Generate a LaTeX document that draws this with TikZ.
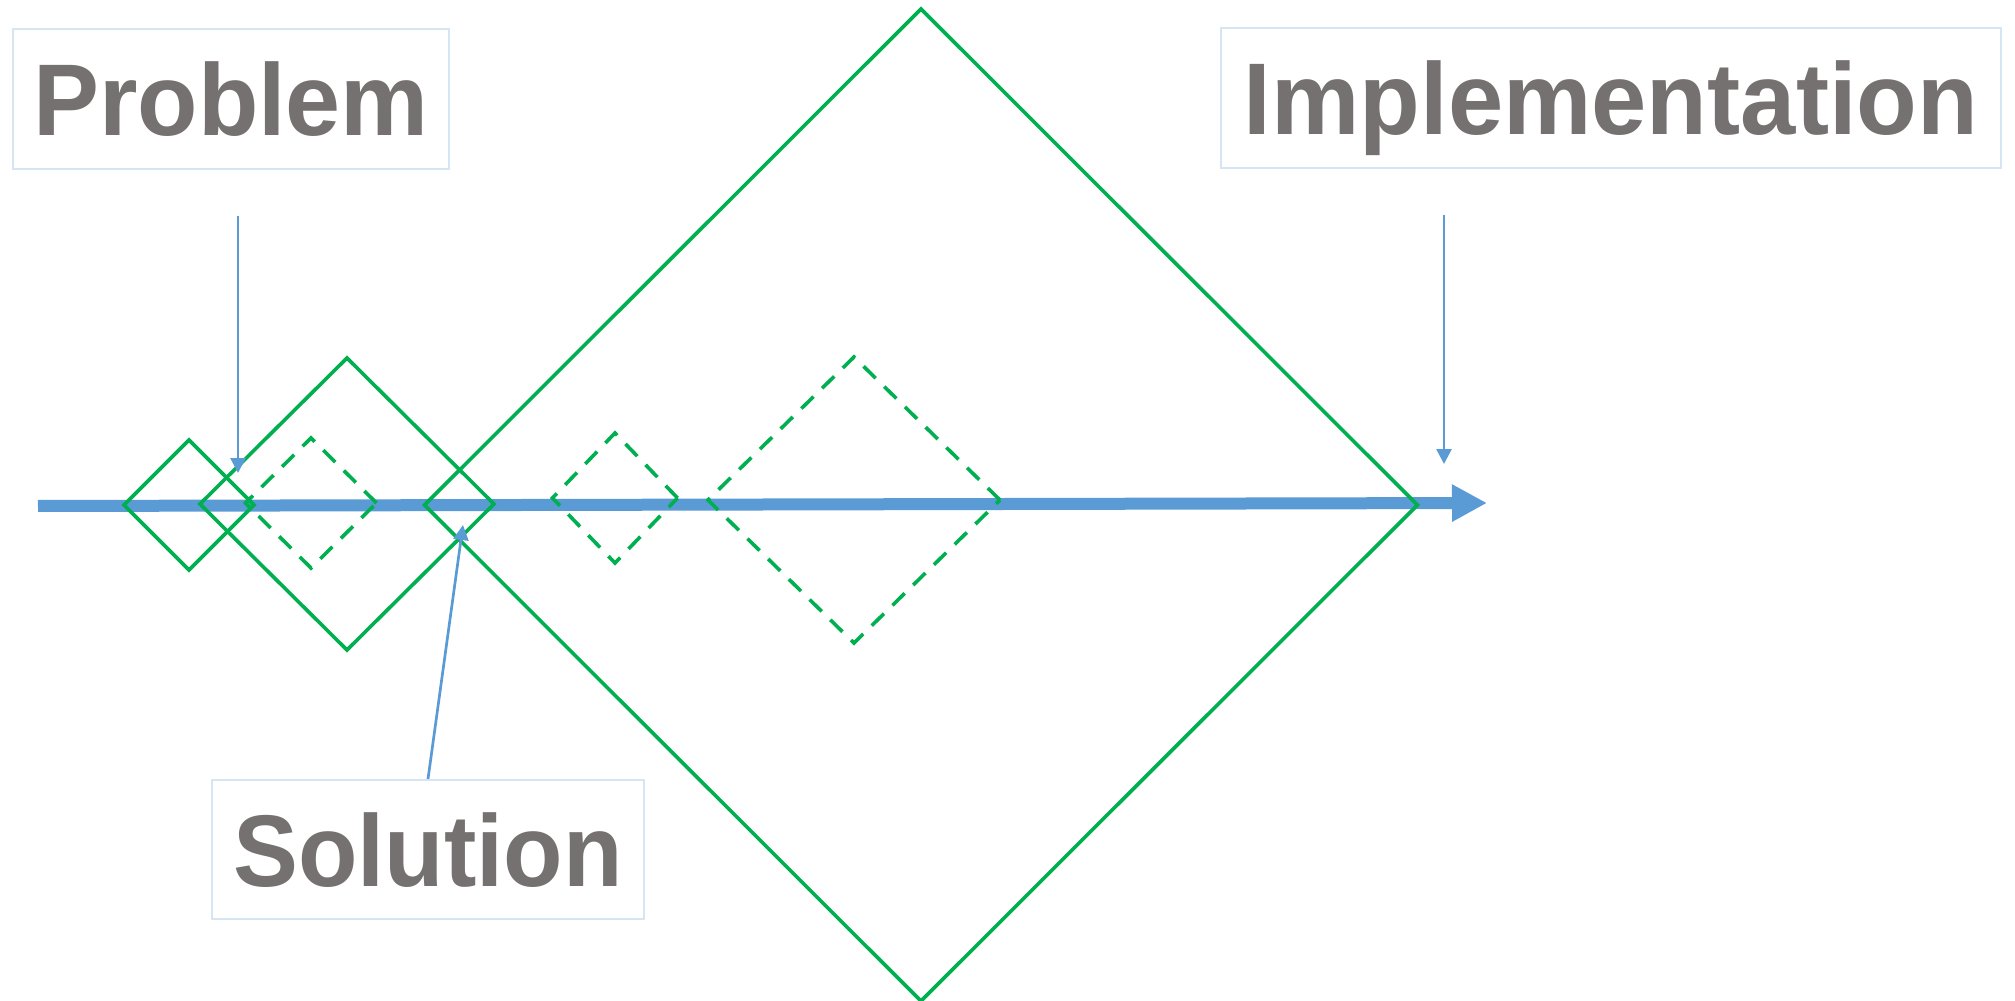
\documentclass[tikz,border=0pt]{standalone}
\usepackage{fontspec}
\setmainfont{Liberation Sans}
\usetikzlibrary{arrows.meta,shapes.geometric}
\definecolor{stagegray}{HTML}{767171}
\definecolor{phasegreen}{HTML}{00B050}
\definecolor{flowblue}{HTML}{5B9BD5}
\definecolor{boxedge}{HTML}{D5E5F4}

\begin{document}
\begin{tikzpicture}[x=0.1mm,y=-0.1mm,
  stage/.style={draw=boxedge,line width=0.2mm,inner sep=0pt,minimum height=14mm,
    text=stagegray,font=\fontsize{29pt}{29pt}\selectfont\bfseries,
    text height=7.3mm,text depth=0pt},
  phase/.style={diamond,draw=phasegreen,line width=0.36mm,inner sep=0pt,outer sep=0pt},
  subphase/.style={phase,dash pattern=on 1.7mm off 1.2mm},
  pointer/.style={draw=flowblue,line width=0.27mm,-{Triangle[length=1.5mm,width=1.5mm]}}]
  \useasboundingbox (0,0) rectangle (2015,1001);
  % main flow
  \coordinate (start) at (38,506);
  \coordinate (finish) at (1487,503);
  \draw[flowblue,line width=1.2mm,-{Triangle[length=3.5mm,width=3.5mm]}] (start) -- (finish);
  % solid iterations
  \node[phase,minimum width=13mm,minimum height=13mm] (d1) at (189,505) {};
  \node[phase,minimum width=29.4mm,minimum height=29.2mm] (d2) at (347,504) {};
  \node[phase,minimum width=99.3mm,minimum height=99.2mm] (d4) at (921,505) {};
  % dashed iterations
  \node[subphase,minimum width=13.1mm,minimum height=13mm] (d3) at (311,503) {};
  \node[subphase,minimum width=12.5mm,minimum height=13mm] (d5) at (615,498) {};
  \node[subphase,minimum width=29.2mm,minimum height=28.6mm] (d6) at (854,500) {};
  % labels
  \node[stage,minimum width=43.6mm] (prob) at (231,99) {\scalebox{0.97}[1]{Problem}};
  \node[stage,minimum width=78mm] (impl) at (1611,98) {\scalebox{0.975}[1]{Implementation}};
  \node[stage,minimum width=43.2mm,minimum height=13.9mm] (sol) at (428,849.5) {\scalebox{0.955}[1]{Solution}};
  % pointers
  \coordinate (probtip) at (238,473);
  \coordinate (impltip) at (1444,464);
  \coordinate (soltip) at (463,525);
  \draw[pointer,shorten <=4.6mm] (prob.south -| probtip) -- (probtip);
  \draw[pointer,shorten <=4.6mm] (impl.south -| impltip) -- (impltip);
  \draw[pointer] (sol.north) -- (soltip);
\end{tikzpicture}
\end{document}
